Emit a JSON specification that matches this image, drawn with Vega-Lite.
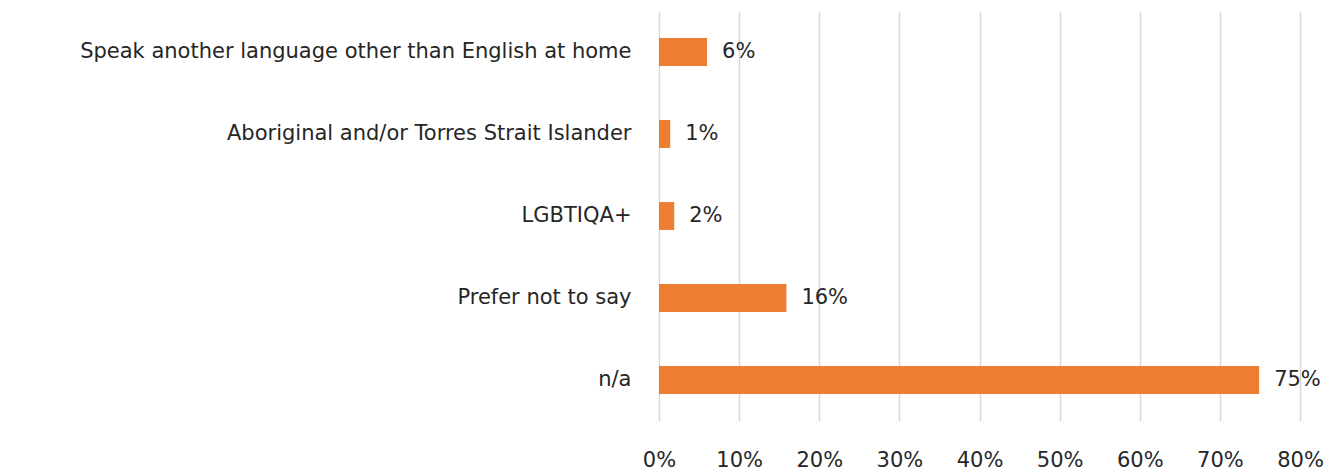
{
  "$schema": "https://vega.github.io/schema/vega-lite/v6.json",
  "width": 641,
  "height": 410,
  "autosize": {"type": "none"},
  "padding": {"left": 659, "top": 11, "right": 42, "bottom": 52},
  "background": "white",
  "config": {
    "view": {"stroke": null},
    "font": "DejaVu Sans"
  },
  "data": {
    "values": [
      {"category": "Speak another language other than English at home", "value": 0.06},
      {"category": "Aboriginal and/or Torres Strait Islander", "value": 0.014},
      {"category": "LGBTIQA+", "value": 0.019},
      {"category": "Prefer not to say", "value": 0.159},
      {"category": "n/a", "value": 0.749}
    ]
  },
  "encoding": {
    "y": {
      "field": "category",
      "type": "nominal",
      "sort": null,
      "title": null,
      "scale": {"paddingInner": 0.66, "paddingOuter": 0.33},
      "axis": {
        "domain": false,
        "ticks": false,
        "labelFont": "DejaVu Sans",
        "labelFontSize": 21,
        "labelColor": "#262626",
        "labelPadding": 28,
        "labelLimit": 700,
        "grid": false
      }
    },
    "x": {
      "field": "value",
      "type": "quantitative",
      "title": null,
      "scale": {"domain": [0, 0.8], "nice": false},
      "axis": {
        "format": ".0%",
        "values": [0, 0.1, 0.2, 0.3, 0.4, 0.5, 0.6, 0.7, 0.8],
        "domain": false,
        "ticks": false,
        "grid": true,
        "gridColor": "#D9D9D9",
        "gridWidth": 1.5,
        "labelFont": "DejaVu Sans",
        "labelFontSize": 21,
        "labelColor": "#262626",
        "labelPadding": 28,
        "labelFlush": false
      }
    }
  },
  "layer": [
    {"mark": {"type": "bar", "color": "#ED7D31"}},
    {
      "mark": {"type": "text", "align": "left", "baseline": "middle", "dx": 15, "fontSize": 21, "font": "DejaVu Sans", "color": "#262626"},
      "encoding": {"text": {"field": "value", "type": "quantitative", "format": ".0%"}}
    }
  ]
}
